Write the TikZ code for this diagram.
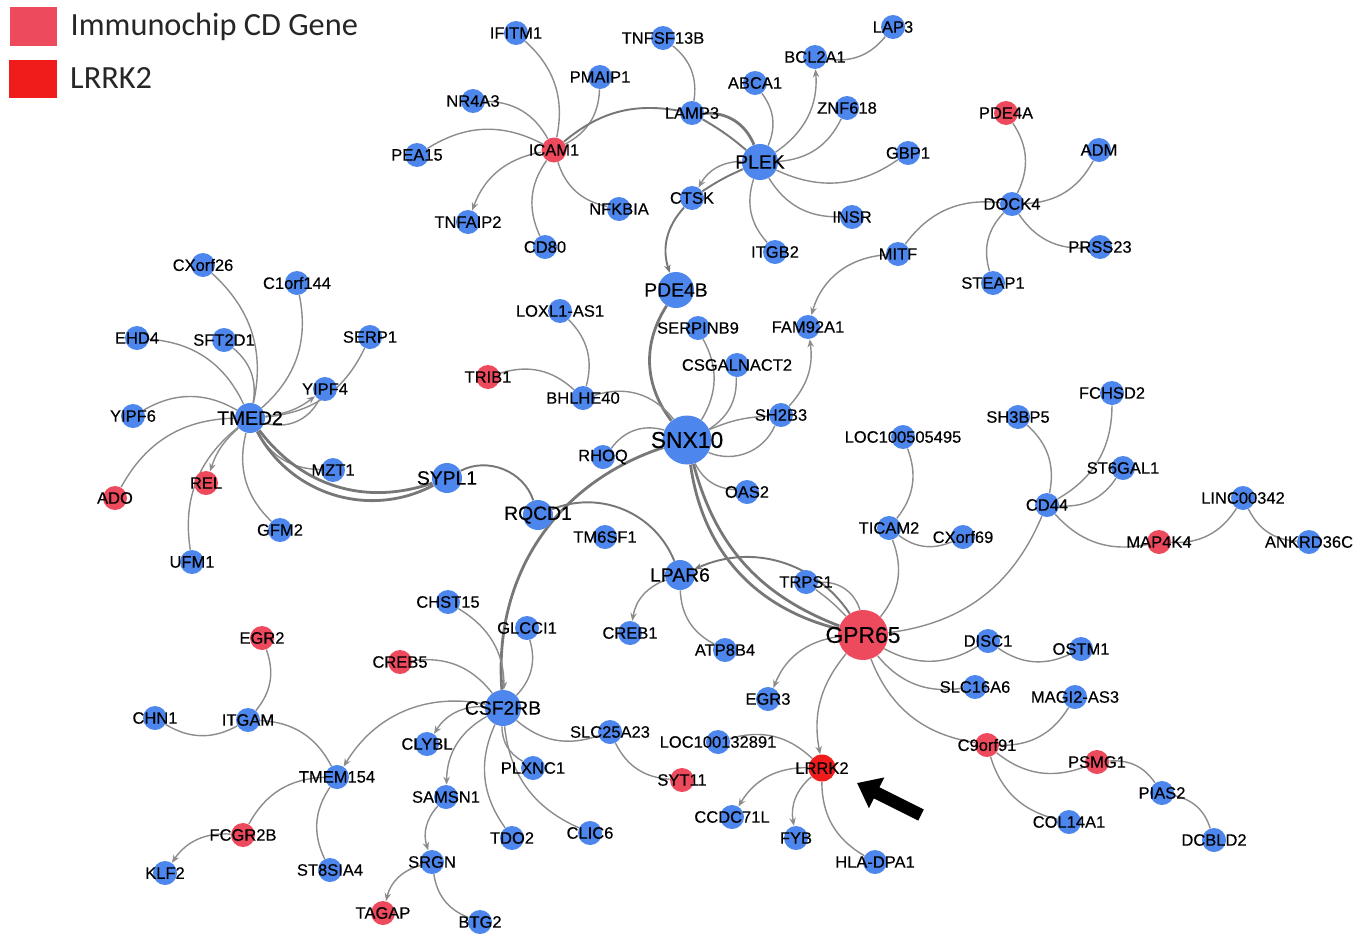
\documentclass[tikz,border=0pt]{standalone}
\usepackage{fontspec}
\setmainfont{Liberation Sans}[FakeBold=0.35]
\newfontfamily\legende{Carlito}
\usetikzlibrary{arrows.meta, positioning, backgrounds}
\definecolor{bleugene}{HTML}{4D86EC}
\definecolor{rougecd}{HTML}{EE4A5E}
\definecolor{rougelrrk}{HTML}{F01C1C}
\definecolor{gristrait}{HTML}{8C8C8C}
\definecolor{grisfort}{HTML}{777777}
\tikzset{
  etiq/.style={font=\fontsize{9.4}{10}\selectfont, text=black, inner sep=0pt},
  etiqmoy/.style={font=\fontsize{11}{12}\selectfont, text=black, inner sep=0pt},
  etiqgrand/.style={font=\fontsize{13}{14}\selectfont, text=black, inner sep=0pt},
  rond/.style={circle, fill=bleugene, inner sep=0pt, minimum size=4.8mm},
  gene/.style={rond, label={[etiq]center:#1}},
  genecd/.style={gene=#1, fill=rougecd},
  pivot/.style={rond, minimum size=6mm, label={[etiqmoy]center:#1}},
  pivotgros/.style={rond, minimum size=7.2mm, label={[etiqmoy]center:#1}},
  centre/.style={rond, minimum size=9.8mm, label={[etiqgrand]center:#1}},
  lien/.style={draw=gristrait, line width=0.8pt},
  lienmoy/.style={draw=grisfort, line width=1.1pt},
  lienfort/.style={draw=grisfort, line width=1.6pt},
  fleche/.style={-{Stealth[length=1.6mm, width=1.3mm]}},
  legcase/.style={rectangle, minimum width=9.4mm, minimum height=7.6mm, inner sep=0pt},
  legtexte/.style={font=\legende\fontsize{18.4}{20}\selectfont, text=black!85, inner sep=0pt},
  pointeur/.style={line width=2.5mm, black, -{Triangle[length=4.4mm, width=6.6mm]}}
}

\begin{document}
\begin{tikzpicture}[x=0.2mm, y=-0.2mm]
  \useasboundingbox (0,0) rectangle (1366,935);

  % legende
  \node[legcase, fill=rougecd] (casecd) at (33.5,26.5) {};
  \node[legcase, fill=rougelrrk] (caselrrk) at (33,78.5) {};
  \node[legtexte, right=2.6mm of casecd] (txtcd) {Immunochip CD Gene};
  \node[legtexte, right=2.6mm of caselrrk] (txtlrrk) {LRRK2};

  % groupe ICAM1 / PLEK
  \node[gene=IFITM1] (ifitm1) at (516,33) {};
  \node[gene=TNFSF13B] (tnfsf13b) at (663,38) {};
  \node[gene=PMAIP1] (pmaip1) at (600,77) {};
  \node[gene=NR4A3] (nr4a3) at (473,101) {};
  \node[genecd=ICAM1, minimum size=5mm] (icam1) at (554,150) {};
  \node[gene=PEA15] (pea15) at (417,155) {};
  \node[gene=LAMP3] (lamp3) at (692,113) {};
  \node[pivotgros=PLEK] (plek) at (760,162) {};
  \node[gene=ABCA1] (abca1) at (755,83) {};
  \node[gene=BCL2A1] (bcl2a1) at (815,57) {};
  \node[gene=LAP3] (lap3) at (893,27) {};
  \node[gene=ZNF618] (znf618) at (847,108) {};
  \node[gene=GBP1] (gbp1) at (908,153) {};
  \node[gene=CTSK] (ctsk) at (692,198) {};
  \node[gene=NFKBIA] (nfkbia) at (619,209) {};
  \node[gene=TNFAIP2] (tnfaip2) at (468,222) {};
  \node[gene=CD80] (cd80) at (545,247) {};
  \node[gene=INSR] (insr) at (852,217) {};
  \node[gene=ITGB2] (itgb2) at (775,252) {};

  % groupe DOCK4
  \node[genecd=PDE4A] (pde4a) at (1006,113) {};
  \node[gene=ADM] (adm) at (1099,150) {};
  \node[gene=DOCK4] (dock4) at (1012,204) {};
  \node[gene=MITF] (mitf) at (898,254) {};
  \node[gene=PRSS23] (prss23) at (1100,247) {};
  \node[gene=STEAP1] (steap1) at (993,283) {};

  % groupe TMED2
  \node[gene=CXorf26] (cxorf26) at (203,265) {};
  \node[gene=C1orf144] (c1orf144) at (297,283) {};
  \node[gene=EHD4] (ehd4) at (137,338) {};
  \node[gene=SFT2D1] (sft2d1) at (224,340) {};
  \node[gene=SERP1] (serp1) at (370,337) {};
  \node[gene=YIPF4] (yipf4) at (325,389) {};
  \node[gene=YIPF6] (yipf6) at (133,416) {};
  \node[pivot=TMED2] (tmed2) at (250,418) {};
  \node[gene=MZT1] (mzt1) at (333,470) {};
  \node[pivot=SYPL1] (sypl1) at (447,478) {};
  \node[genecd=ADO] (ado) at (115,498) {};
  \node[genecd=REL] (rel) at (206,483) {};
  \node[gene=GFM2] (gfm2) at (280,530) {};
  \node[gene=UFM1] (ufm1) at (192,562) {};

  % groupe SNX10
  \node[pivotgros=PDE4B] (pde4b) at (676,290) {};
  \node[gene=LOXL1-AS1] (loxl) at (560,311) {};
  \node[gene=SERPINB9] (serpinb9) at (698,328) {};
  \node[gene=FAM92A1] (fam92a1) at (808,327) {};
  \node[genecd=TRIB1] (trib1) at (488,377) {};
  \node[gene=BHLHE40] (bhlhe40) at (583,398) {};
  \node[gene=CSGALNACT2] (csgalnact2) at (737,365) {};
  \node[gene=SH2B3] (sh2b3) at (781,415) {};
  \node[centre=SNX10] (snx10) at (687,440) {};
  \node[gene=RHOQ] (rhoq) at (603,457) {};
  \node[gene=OAS2] (oas2) at (747,492) {};
  \node[pivot=RQCD1] (rqcd1) at (538,515) {};
  \node[gene=TM6SF1] (tm6sf1) at (605,537) {};
  \node[pivot=LPAR6] (lpar6) at (680,575) {};
  \node[gene=TRPS1] (trps1) at (806,582) {};
  \node[gene=CREB1] (creb1) at (630,633) {};
  \node[gene=ATP8B4] (atp8b4) at (725,650) {};

  % groupe GPR65 / CD44
  \node[gene=LOC100505495] (loc5495) at (903,437) {};
  \node[gene=SH3BP5] (sh3bp5) at (1018,417) {};
  \node[gene=FCHSD2] (fchsd2) at (1112,393) {};
  \node[gene=ST6GAL1] (st6gal1) at (1123,468) {};
  \node[gene=CD44] (cd44) at (1047,505) {};
  \node[gene=LINC00342] (linc) at (1243,498) {};
  \node[gene=TICAM2] (ticam2) at (889,528) {};
  \node[gene=CXorf69] (cxorf69) at (963,537) {};
  \node[genecd=MAP4K4] (map4k4) at (1159,542) {};
  \node[gene=ANKRD36C] (ankrd) at (1309,542) {};
  \node[centre=GPR65, fill=rougecd, minimum size=10mm] (gpr65) at (863,635) {};
  \node[gene=DISC1] (disc1) at (988,641) {};
  \node[gene=OSTM1] (ostm1) at (1081,649) {};
  \node[gene=SLC16A6] (slc16a6) at (975,687) {};
  \node[gene=MAGI2-AS3] (magi) at (1075,697) {};
  \node[gene=EGR3] (egr3) at (768,699) {};
  \node[genecd=C9orf91] (c9orf91) at (987,745) {};
  \node[genecd=PSMG1] (psmg1) at (1097,762) {};
  \node[gene=PIAS2] (pias2) at (1162,793) {};
  \node[gene=COL14A1] (col14a1) at (1069,822) {};
  \node[gene=DCBLD2] (dcbld2) at (1214,840) {};

  % groupe LRRK2
  \node[gene=LRRK2, fill=rougelrrk, minimum size=5.4mm] (lrrk2) at (822,768) {};
  \node[gene=LOC100132891] (loc2891) at (718,742) {};
  \node[gene=CCDC71L] (ccdc71l) at (732,817) {};
  \node[gene=FYB] (fyb) at (796,838) {};
  \node[gene=HLA-DPA1] (hladpa) at (875,862) {};

  % groupe CSF2RB
  \node[gene=CHST15] (chst15) at (448,602) {};
  \node[gene=GLCCI1] (glcci1) at (527,628) {};
  \node[genecd=CREB5] (creb5) at (400,662) {};
  \node[pivotgros=CSF2RB] (csf2rb) at (503,708) {};
  \node[gene=SLC25A23] (slc25a23) at (610,732) {};
  \node[genecd=SYT11] (syt11) at (682,780) {};
  \node[gene=CLYBL] (clybl) at (427,744) {};
  \node[gene=PLXNC1] (plxnc1) at (533,768) {};
  \node[gene=SAMSN1] (samsn1) at (446,797) {};
  \node[gene=TDO2] (tdo2) at (512,838) {};
  \node[gene=CLIC6] (clic6) at (590,833) {};
  \node[gene=SRGN] (srgn) at (432,862) {};
  \node[gene=BTG2] (btg2) at (480,922) {};
  \node[genecd=TAGAP] (tagap) at (383,913) {};

  % groupe TMEM154
  \node[genecd=EGR2] (egr2) at (262,638) {};
  \node[gene=CHN1] (chn1) at (155,718) {};
  \node[gene=ITGAM] (itgam) at (248,720) {};
  \node[gene=TMEM154] (tmem154) at (337,777) {};
  \node[genecd=FCGR2B] (fcgr2b) at (243,835) {};
  \node[gene=KLF2] (klf2) at (165,873) {};
  \node[gene=ST8SIA4] (st8sia4) at (330,870) {};

  \coordinate (queue) at (921,815);
  \coordinate (pointe) at (857,783);
  \draw[pointeur] (queue) -- (pointe);

  \begin{scope}[on background layer]
    \draw[lien] (icam1) to[bend right] (ifitm1);
    \draw[lien] (icam1) to[bend right] (pmaip1);
    \draw[lien] (icam1) to[bend right] (nr4a3);
    \draw[lien] (icam1) to[bend right] (pea15);
    \draw[lien, fleche] (icam1) to[bend right] (tnfaip2);
    \draw[lien] (icam1) to[bend right] (cd80);
    \draw[lien] (icam1) to[bend right] (nfkbia);
    \draw[lienmoy] (lamp3) to[bend right=25] (icam1);
    \draw[lien] (lamp3) to[bend right] (tnfsf13b);
    \draw[lienfort] (plek) to[bend right=35] (lamp3);
    \draw[lienmoy] (plek) to[bend right=5] (lamp3);
    \draw[lien] (plek) to[bend right] (abca1);
    \draw[lien, fleche] (plek) to[bend right] (bcl2a1);
    \draw[lien] (bcl2a1) to[bend right] (lap3);
    \draw[lien] (plek) to[bend right] (znf618);
    \draw[lien] (plek) to[bend right] (gbp1);
    \draw[lien] (plek) to[bend right] (insr);
    \draw[lien] (plek) to[bend right] (itgb2);
    \draw[lien, fleche] (plek) to[bend right=30] (ctsk);
    \draw[lienmoy] (plek) to[bend right=5] (ctsk);
    \draw[lienmoy, fleche] (ctsk) to[bend right] (pde4b);
    \draw[lienfort] (pde4b) to[bend right=35] (snx10);

    \draw[lien] (dock4) to[bend right] (pde4a);
    \draw[lien] (dock4) to[bend right] (adm);
    \draw[lien] (dock4) to[bend right] (prss23);
    \draw[lien] (dock4) to[bend right] (steap1);
    \draw[lien] (dock4) to[bend right] (mitf);
    \draw[lien, fleche] (mitf) to[bend right=35] (fam92a1);

    \draw[lien] (tmed2) to[bend right] (cxorf26);
    \draw[lien] (tmed2) to[bend right] (c1orf144);
    \draw[lien] (tmed2) to[bend right] (ehd4);
    \draw[lien] (tmed2) to[bend right] (sft2d1);
    \draw[lien] (tmed2) to[bend right] (serp1);
    \draw[lien, fleche] (tmed2) to[bend right=15] (yipf4);
    \draw[lien] (tmed2) to[bend right=40] (yipf4);
    \draw[lien] (tmed2) to[bend right] (yipf6);
    \draw[lien] (tmed2) to[bend right] (ado);
    \draw[lien, fleche] (tmed2) to[bend right=15] (rel);
    \draw[lien] (tmed2) to[bend right] (ufm1);
    \draw[lien] (tmed2) to[bend right] (gfm2);
    \draw[lien] (tmed2) to[bend right] (mzt1);
    \draw[lienfort] (tmed2) to[bend right=45] (sypl1);
    \draw[lienfort] (tmed2) to[bend right=36] (sypl1);
    \draw[lienmoy] (rqcd1) to[bend right=50] (sypl1);

    \draw[lien] (snx10) to[bend right] (serpinb9);
    \draw[lien] (snx10) to[bend right] (csgalnact2);
    \draw[lien] (snx10) to[bend left=10] (sh2b3);
    \draw[lien] (snx10) to[bend right=45] (sh2b3);
    \draw[lien, fleche] (sh2b3) to[bend right=25] (fam92a1);
    \draw[lien] (snx10) to[bend right=35] (bhlhe40);
    \draw[lien] (snx10) to[bend right=35] (rhoq);
    \draw[lien] (snx10) to[bend right] (oas2);
    \draw[lienfort] (snx10) to[bend right=34] (gpr65);
    \draw[lienfort] (snx10) to[bend right=27] (gpr65);
    \draw[lienfort] (snx10) to[bend right=38] (csf2rb);
    \draw[lien] (bhlhe40) to[bend right] (loxl);
    \draw[lien] (bhlhe40) to[bend right] (trib1);
    \draw[lienmoy] (lpar6) to[bend right=45] (rqcd1);

    \draw[lien, fleche] (lpar6) to[bend right] (creb1);
    \draw[lien] (lpar6) to[bend right] (atp8b4);
    \draw[lienmoy, fleche] (gpr65) to[bend right=40] (lpar6);

    \draw[lien] (gpr65) to[bend right=40] (trps1);
    \draw[lien] (gpr65) to[bend right=5] (trps1);
    \draw[lien] (gpr65) to[bend right] (ticam2);
    \draw[lien] (gpr65) to[bend right] (cd44);
    \draw[lien] (gpr65) to[bend right] (disc1);
    \draw[lien] (gpr65) to[bend right] (slc16a6);
    \draw[lien] (gpr65) to[bend right] (c9orf91);
    \draw[lien, fleche] (gpr65) to[bend right=25] (lrrk2);
    \draw[lien, fleche] (gpr65) to[bend right] (egr3);
    \draw[lien] (ticam2) to[bend right] (loc5495);
    \draw[lien] (ticam2) to[bend right] (cxorf69);
    \draw[lien] (cd44) to[bend right] (sh3bp5);
    \draw[lien] (cd44) to[bend right] (fchsd2);
    \draw[lien] (cd44) to[bend right] (st6gal1);
    \draw[lien] (cd44) to[bend right] (map4k4);
    \draw[lien] (map4k4) to[bend right] (linc);
    \draw[lien] (linc) to[bend right] (ankrd);
    \draw[lien] (disc1) to[bend right] (ostm1);
    \draw[lien] (c9orf91) to[bend right] (magi);
    \draw[lien] (c9orf91) to[bend right] (psmg1);
    \draw[lien] (c9orf91) to[bend right] (col14a1);
    \draw[lien] (pias2) to[bend right] (psmg1);
    \draw[lien] (dcbld2) to[bend right] (pias2);

    \draw[lien] (lrrk2) to[bend right] (loc2891);
    \draw[lien, fleche] (lrrk2) to[bend right] (ccdc71l);
    \draw[lien, fleche] (lrrk2) to[bend right] (fyb);
    \draw[lien] (lrrk2) to[bend right] (hladpa);

    \draw[lien, fleche] (chst15) to[bend left] (csf2rb);
    \draw[lien] (csf2rb) to[bend right] (glcci1);
    \draw[lien] (csf2rb) to[bend right] (creb5);
    \draw[lien, fleche] (csf2rb) to[bend right=35] (tmem154);
    \draw[lien, fleche] (csf2rb) to[bend right] (clybl);
    \draw[lien, fleche] (csf2rb) to[bend right] (samsn1);
    \draw[lien] (csf2rb) to[bend right] (tdo2);
    \draw[lien] (csf2rb) to[bend right] (plxnc1);
    \draw[lien] (csf2rb) to[bend right] (clic6);
    \draw[lien] (csf2rb) to[bend right] (slc25a23);
    \draw[lien] (slc25a23) to[bend right] (syt11);
    \draw[lien, fleche] (samsn1) to[bend right] (srgn);
    \draw[lien, fleche] (srgn) to[bend right] (tagap);
    \draw[lien] (srgn) to[bend right] (btg2);

    \draw[lien] (tmem154) to[bend right] (itgam);
    \draw[lien] (tmem154) to[bend right] (fcgr2b);
    \draw[lien] (tmem154) to[bend right] (st8sia4);
    \draw[lien] (itgam) to[bend right] (egr2);
    \draw[lien] (chn1) to[bend right] (itgam);
    \draw[lien, fleche] (fcgr2b) to[bend right] (klf2);
  \end{scope}
\end{tikzpicture}
\end{document}
